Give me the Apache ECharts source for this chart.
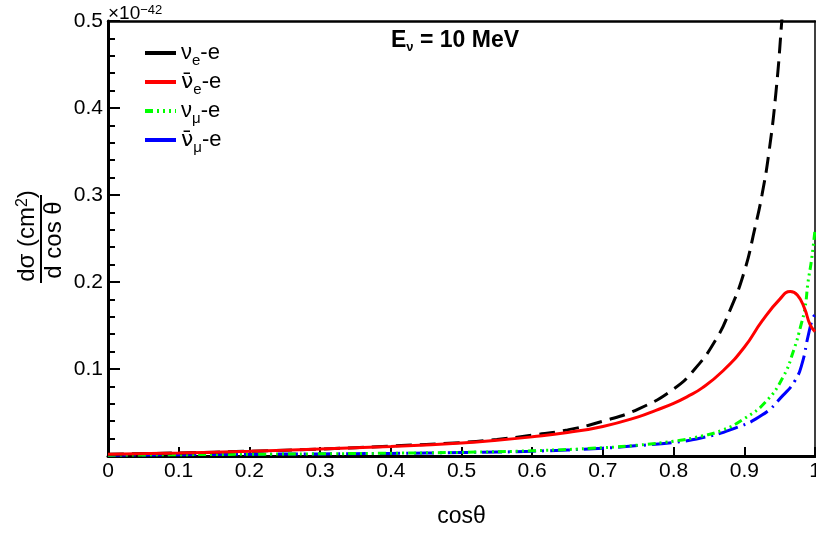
<!DOCTYPE html>
<html>
<head>
    <meta charset="UTF-8">
    <title>dsigma / dcos theta</title>
    <script src="https://cdn.jsdelivr.net/npm/echarts/dist/echarts.min.js"></script>
    <style>
        body { margin: 0; padding: 0; background: #fff; }
        #chart { width: 816px; height: 534px; }
    </style>
</head>
<body>
    <div id="chart"></div>
    <script>
        // values in units of 1e-42 cm^2
        const nueX = [0, 0.1, 0.2, 0.3, 0.4, 0.5, 0.55, 0.6, 0.65, 0.7, 0.75, 0.8, 0.83, 0.86, 0.88, 0.9, 0.915, 0.925, 0.935, 0.945, 0.953, 0.96];
        const nueY = [0.002, 0.0035, 0.0055, 0.008, 0.0115, 0.0155, 0.019, 0.024, 0.030, 0.040, 0.054, 0.077, 0.100, 0.134, 0.168, 0.212, 0.262, 0.300, 0.350, 0.420, 0.500, 0.580];

        const nuebarX = [0, 0.1, 0.2, 0.3, 0.4, 0.5, 0.55, 0.6, 0.65, 0.7, 0.75, 0.775, 0.8, 0.82, 0.84, 0.87, 0.9, 0.925, 0.95, 0.965, 0.975, 0.985, 0.993, 1.0];
        const nuebarY = [0.002, 0.0035, 0.0055, 0.008, 0.011, 0.015, 0.018, 0.022, 0.027, 0.034, 0.045, 0.0525, 0.0605, 0.0685, 0.078, 0.098, 0.125, 0.155, 0.180, 0.189, 0.185, 0.170, 0.151, 0.143];

        const numuX = [0, 0.1, 0.2, 0.3, 0.4, 0.5, 0.6, 0.7, 0.75, 0.8, 0.84, 0.87, 0.9, 0.93, 0.955, 0.97, 0.98, 0.986, 0.99, 0.995, 1.0];
        const numuY = [0.001, 0.0015, 0.002, 0.0025, 0.0032, 0.0042, 0.006, 0.0095, 0.0125, 0.017, 0.023, 0.030, 0.043, 0.062, 0.091, 0.122, 0.150, 0.171, 0.199, 0.225, 0.260];

        const numubarX = [0, 0.1, 0.2, 0.3, 0.4, 0.5, 0.6, 0.7, 0.75, 0.8, 0.84, 0.88, 0.925, 0.955, 0.972, 0.982, 0.99, 0.997, 1.0];
        const numubarY = [0.001, 0.0015, 0.002, 0.0024, 0.003, 0.004, 0.0055, 0.009, 0.012, 0.0155, 0.021, 0.030, 0.047, 0.070, 0.087, 0.107, 0.137, 0.159, 0.162];

        const legendTexts = {
            nue: '{m|\u03BD}{s|e}{m|-e}',
            nuebar: '{n|\u03BD\u0304}{s|e}{m|-e}',
            numu: '{m|\u03BD}{s|\u03BC}{m|-e}',
            numubar: '{n|\u03BD\u0304}{s|\u03BC}{m|-e}'
        };

        const xTicks = [0, 0.1, 0.2, 0.3, 0.4, 0.5, 0.6, 0.7, 0.8, 0.9, 1];
        const yTicks = [0.1, 0.2, 0.3, 0.4, 0.5];

        const font = 'Liberation Sans';
        const zip = (xs, ys) => xs.map((x, i) => [x, ys[i]]);

        const chart = echarts.init(document.getElementById('chart'));

        const lineSeries = (name, xs, ys, color, type, z) => ({
            name: name,
            type: 'line',
            data: zip(xs, ys),
            symbol: 'none',
            smooth: 0.5,
            clip: true,
            color: color,
            lineStyle: { color: color, width: 3, type: type },
            z: z
        });

        const option = {
            animation: false,
            backgroundColor: '#fff',
            grid: { left: 108, right: 1, top: 21, bottom: 78, outerBoundsMode: 'none' },
            legend: {
                orient: 'vertical',
                left: 143,
                top: 42,
                padding: 0,
                itemWidth: 31,
                itemHeight: 3,
                itemGap: 3,
                itemStyle: { opacity: 0 },
                textStyle: {
                    fontFamily: font,
                    color: '#000',
                    rich: {
                        m: { fontSize: 22, fontFamily: font, color: '#000', lineHeight: 22, verticalAlign: 'top' },
                        n: { fontSize: 22, fontFamily: 'DejaVu Sans', color: '#000', lineHeight: 22, verticalAlign: 'top' },
                        s: { fontSize: 15, fontFamily: font, color: '#000', lineHeight: 15, verticalAlign: 'top', padding: [11, 0, 0, 0] }
                    }
                },
                formatter: name => legendTexts[name],
                data: [
                    { name: 'nue', lineStyle: { type: 'solid', width: 4 } },
                    { name: 'nuebar', lineStyle: { type: 'solid', width: 4 } },
                    { name: 'numu', lineStyle: { width: 4 } },
                    { name: 'numubar', lineStyle: { type: 'solid', width: 4 } }
                ]
            },
            xAxis: [{
                type: 'value',
                min: 0,
                max: 1,
                interval: 0.1,
                axisLine: { onZero: false, lineStyle: { color: '#000', width: 3 } },
                axisTick: { inside: true, length: 9, lineStyle: { color: '#000', width: 2 } },
                splitLine: { show: false },
                axisLabel: {
                    color: '#000', fontFamily: font, fontSize: 21, margin: 5,
                    formatter: v => xTicks.some(t => Math.abs(t - v) < 1e-6) ? String(+v.toFixed(1)) : ''
                },
                name: 'cos\u03B8',
                nameLocation: 'middle',
                nameGap: 49,
                nameTextStyle: { color: '#000', fontFamily: font, fontSize: 23 }
            }, {
                type: 'value',
                position: 'top',
                min: 0,
                max: 1,
                axisLine: { onZero: false, lineStyle: { color: '#000', width: 2.5 } },
                axisTick: { show: false },
                axisLabel: { show: false },
                splitLine: { show: false }
            }],
            yAxis: [{
                type: 'value',
                min: 0,
                max: 0.5,
                interval: 0.1,
                axisLine: { onZero: false, lineStyle: { color: '#000', width: 3 } },
                axisTick: { inside: true, length: 12, lineStyle: { color: '#000', width: 2 } },
                minorTick: { show: true, splitNumber: 5, length: 7, lineStyle: { color: '#000', width: 2 } },
                splitLine: { show: false },
                axisLabel: {
                    color: '#000', fontFamily: font, fontSize: 21, margin: 5,
                    formatter: v => yTicks.some(t => Math.abs(t - v) < 1e-6) ? String(+v.toFixed(1)) : ''
                }
            }, {
                type: 'value',
                position: 'right',
                min: 0,
                max: 0.5,
                axisLine: { onZero: false, lineStyle: { color: '#000', width: 1.5 } },
                axisTick: { show: false },
                axisLabel: { show: false },
                splitLine: { show: false }
            }],
            series: [
                lineSeries('nue', nueX, nueY, '#000000', [16, 8], 4),
                lineSeries('nuebar', nuebarX, nuebarY, '#ff0000', 'solid', 5),
                lineSeries('numu', numuX, numuY, '#00ff00', [8, 4, 2, 4, 2, 4, 2, 4], 3),
                lineSeries('numubar', numubarX, numubarY, '#0000ff', [20, 6, 2, 6], 2)
            ],
            graphic: [{
                type: 'text',
                left: 108,
                top: 0,
                style: {
                    text: '{a|\u00D710}{b|\u221242}',
                    rich: {
                        a: { fontFamily: font, fontSize: 19, color: '#000', lineHeight: 19, verticalAlign: 'bottom', padding: [4, 0, 0, 0] },
                        b: { fontFamily: font, fontSize: 13, color: '#000', lineHeight: 13, verticalAlign: 'top' }
                    }
                }
            }, {
                type: 'text',
                left: 391,
                top: 29,
                style: {
                    text: '{a|E}{b|\u03BD}{a| = 10 MeV}',
                    rich: {
                        a: { fontFamily: font, fontSize: 23, fontWeight: 'bold', color: '#0000ff', lineHeight: 23, verticalAlign: 'top' },
                        b: { fontFamily: font, fontSize: 13, fontWeight: 'bold', color: '#0000ff', lineHeight: 13, verticalAlign: 'top', padding: [12, 0, 0, 0] }
                    }
                }
            }, {
                type: 'text',
                x: 27,
                y: 236,
                rotation: Math.PI / 2,
                style: {
                    text: '{a|d\u03C3 (cm}{b|2}{a|)}',
                    align: 'center',
                    verticalAlign: 'middle',
                    rich: {
                        a: { fontFamily: font, fontSize: 24, color: '#000', lineHeight: 24, verticalAlign: 'bottom', padding: [6, 0, 0, 0] },
                        b: { fontFamily: font, fontSize: 16, color: '#000', lineHeight: 16, verticalAlign: 'top' }
                    }
                }
            }, {
                type: 'line',
                shape: { x1: 41, y1: 195, x2: 41, y2: 283 },
                style: { stroke: '#000', lineWidth: 2 }
            }, {
                type: 'text',
                x: 54,
                y: 240,
                rotation: Math.PI / 2,
                style: {
                    text: 'd cos \u03B8',
                    align: 'center',
                    verticalAlign: 'middle',
                    fontFamily: font,
                    fontSize: 24,
                    fill: '#000'
                }
            }]
        };

        chart.setOption(option);
    </script>
</body>
</html>
